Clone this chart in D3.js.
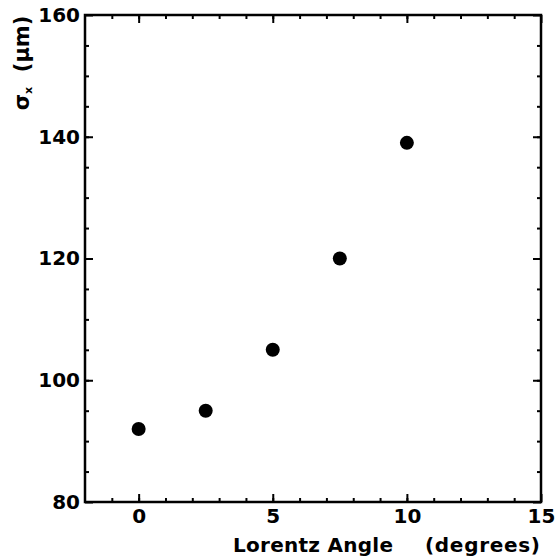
<!DOCTYPE html>
<html>
<head>
<meta charset="utf-8">
<script src="https://cdn.jsdelivr.net/npm/d3@7"></script>
<style>
  body { margin: 0; background: #fff; }
  text { font-family: "DejaVu Sans", "Liberation Sans", sans-serif; fill: #000; }
</style>
</head>
<body>
<div id="chart"></div>
<script>
// data
var angles = [0, 2.5, 5, 7.5, 10];
var sigmas = [92, 95, 105, 120, 139];
var xTicks = [0, 5, 10, 15];
var yTicks = [80, 100, 120, 140, 160];

var W = 555, H = 559;
var pLeft = 85, pRight = 541, pTop = 15, pBottom = 502;
var font = "DejaVu Sans, Liberation Sans, sans-serif";

var x = d3.scaleLinear().domain([-2, 15]).range([pLeft, pRight]);
var y = d3.scaleLinear().domain([80, 160]).range([pBottom, pTop]);

var svg = d3.select("#chart").append("svg").attr("width", W).attr("height", H);

// minor ticks every 1 deg / 5 um, all pointing inward
var xMinor = d3.range(-1, 15, 1);
var yMinor = d3.range(85, 160, 5);

var g;
g = svg.append("g").attr("transform", "translate(0," + pBottom + ")");
g.call(d3.axisBottom(x).tickValues(xMinor).tickSize(-4).tickFormat(""));
g.append("g").call(d3.axisBottom(x).tickValues(xTicks).tickSize(-8).tickPadding(7).tickFormat(d3.format("d")));

g = svg.append("g").attr("transform", "translate(0," + pTop + ")");
g.call(d3.axisTop(x).tickValues(xMinor).tickSize(-4).tickFormat(""));
g.append("g").call(d3.axisTop(x).tickValues(xTicks).tickSize(-8).tickFormat(""));

g = svg.append("g").attr("transform", "translate(" + pLeft + ",0)");
g.call(d3.axisLeft(y).tickValues(yMinor).tickSize(-4).tickFormat(""));
g.append("g").call(d3.axisLeft(y).tickValues(yTicks).tickSize(-8).tickPadding(5).tickFormat(d3.format("d")));

g = svg.append("g").attr("transform", "translate(" + pRight + ",0)");
g.call(d3.axisRight(y).tickValues(yMinor).tickSize(-4).tickFormat(""));
g.append("g").call(d3.axisRight(y).tickValues(yTicks).tickSize(-8).tickFormat(""));

svg.selectAll(".domain").remove();
svg.selectAll(".tick line").attr("stroke", "#000").attr("stroke-width", 2);
svg.selectAll(".tick text").attr("font-size", 20).attr("font-family", font).attr("font-weight", "bold");

// frame
svg.append("rect")
    .attr("x", pLeft).attr("y", pTop)
    .attr("width", pRight - pLeft).attr("height", pBottom - pTop)
    .attr("fill", "none").attr("stroke", "#000").attr("stroke-width", 2.5);

// points
svg.selectAll("circle.pt")
    .data(angles)
    .enter().append("circle")
    .attr("class", "pt")
    .attr("cx", function(d) { return x(d); })
    .attr("cy", function(d, i) { return y(sigmas[i]); })
    .attr("r", 7)
    .attr("fill", "#000");

// axis titles
svg.append("text")
    .attr("x", 233).attr("y", 552)
    .attr("font-size", 20)
    .attr("font-weight", "bold")
    .attr("textLength", 160)
    .text("Lorentz Angle");
svg.append("text")
    .attr("x", 425).attr("y", 552)
    .attr("font-size", 20)
    .attr("font-weight", "bold")
    .attr("textLength", 115)
    .text("(degrees)");

var yl = svg.append("text")
    .attr("transform", "translate(29,63) rotate(-90)")
    .attr("text-anchor", "middle")
    .attr("font-size", 21)
    .attr("font-weight", "bold")
    .attr("xml:space", "preserve");
yl.append("tspan").text("σ");
yl.append("tspan").attr("font-size", 11).attr("dy", 3).text("x");
yl.append("tspan").attr("dy", -3).text("  (μm)");
</script>
</body>
</html>
